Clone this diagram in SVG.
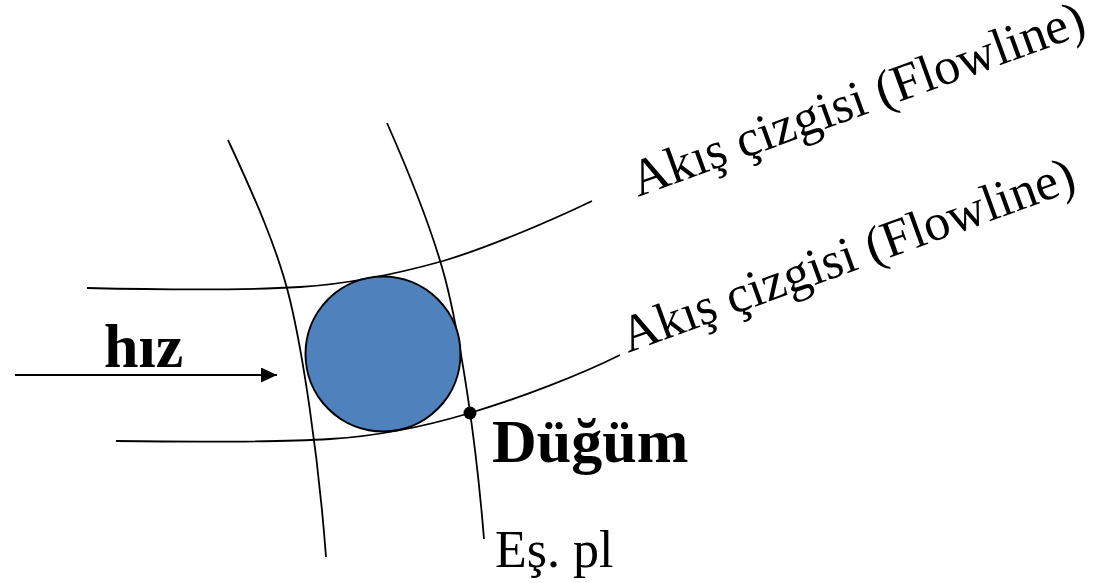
<svg xmlns="http://www.w3.org/2000/svg" width="1111" height="583" viewBox="0 0 1111 583">
<defs>
<marker id="ah" markerWidth="16" markerHeight="15" refX="16" refY="7.5" orient="auto" markerUnits="userSpaceOnUse">
<path d="M0,0 L16,7.5 L0,15 Z" fill="#000"/>
</marker>
<style>
.ln{fill:none;stroke:#000;stroke-width:1.8}
.lbl{font-family:"Liberation Serif","Times New Roman",serif;fill:#000}
.reg{font-size:52px}
.bold{font-size:62px;font-weight:bold}
</style>
</defs>
<rect width="1111" height="583" fill="#fff"/>
<g id="connectors">
<path id="flow-upper" class="ln" d="M87,288 C170,290 250,290 300,287 C350,284 400,273 443,261 C480,250 540,226 592,201"/>
<path id="flow-lower" class="ln" d="M116,441 C200,442 280,442 330,439 C380,436 430,425 470,413 C520,398 580,375 620,355"/>
<path id="eq-left" class="ln" d="M228,140 C255,198 278,250 290,300 C302,350 318,450 326,557"/>
<path id="eq-right" class="ln" d="M387,123 C410,175 435,235 448,290 C462,350 476,440 484,539"/>
<line id="velocity-arrow" x1="15" y1="375" x2="277" y2="375" stroke="#000" stroke-width="2.2" marker-end="url(#ah)"/>
</g>
<g id="particle">
<circle cx="383" cy="354" r="77.5" fill="#4F81BD" stroke="#000" stroke-width="2"/>
</g>
<g id="node-dot">
<circle cx="470" cy="413" r="6.5" fill="#000"/>
</g>
<g id="label-hiz"><text class="lbl bold" x="104" y="367">hız</text></g>
<g id="label-dugum"><text class="lbl bold" x="492" y="462">Düğüm</text></g>
<g id="label-espl"><text class="lbl reg" x="495" y="567">Eş. pl</text></g>
<g id="label-flow-upper"><text class="lbl reg" transform="translate(638,197) rotate(-20)">Akış çizgisi (Flowline)</text></g>
<g id="label-flow-lower"><text class="lbl reg" transform="translate(628,353) rotate(-20)">Akış çizgisi (Flowline)</text></g>
</svg>
